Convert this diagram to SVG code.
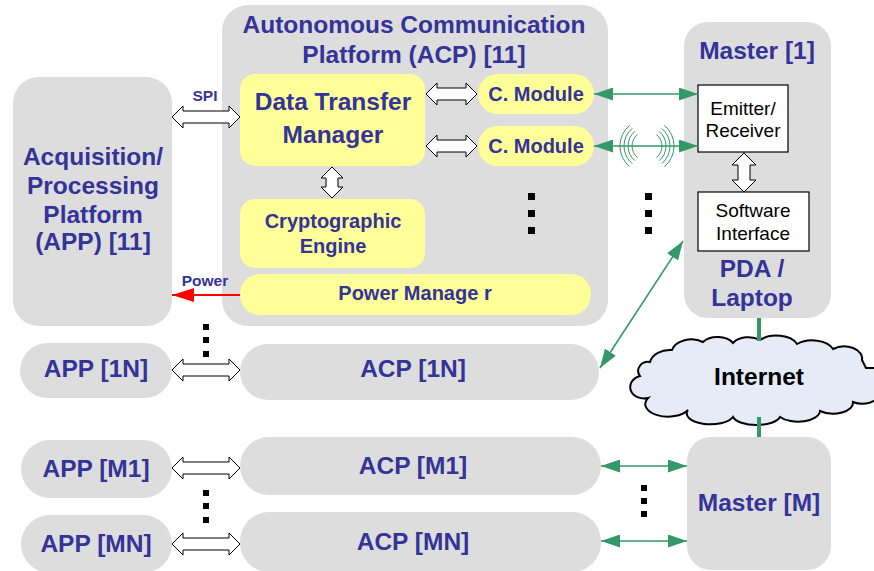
<svg xmlns="http://www.w3.org/2000/svg" width="874" height="571" viewBox="0 0 874 571">
<style>
.g{fill:#dddddd}
.y{fill:#ffff99}
.w{fill:#ffffff;stroke:#000;stroke-width:1.2}
.t{font-family:"Liberation Sans",Arial,sans-serif;font-weight:bold;font-size:24.5px;fill:#333399;text-anchor:middle}
.m{font-size:20px}
.s{font-size:15.5px}
.n{font-family:"Liberation Sans",Arial,sans-serif;font-size:19px;fill:#000;text-anchor:middle}
.ho{fill:#fff;stroke:#000;stroke-width:1}
.gl{stroke:#339966;stroke-width:1.6;fill:none}
.wv{stroke:#339966;stroke-width:1;fill:none}
.dot{fill:#000}
</style>
<defs>
<marker id="ga" viewBox="0 0 19 13" markerWidth="19" markerHeight="13" refX="19" refY="6.5" markerUnits="userSpaceOnUse" orient="auto-start-reverse">
<path d="M0,0 L19,6.5 L0,13 Z" fill="#339966"/>
</marker>
<marker id="ra" viewBox="0 0 22 14" markerWidth="22" markerHeight="14" refX="22" refY="7" markerUnits="userSpaceOnUse" orient="auto">
<path d="M0,0 L22,7 L0,14 Z" fill="#ff0000"/>
</marker>
</defs>

<g id="acp11">
<rect class="g" x="222" y="5" width="386" height="321" rx="26"/>
<text class="t" x="414" y="33">Autonomous Communication</text>
<text class="t" x="414" y="63">Platform (ACP) [11]</text>
</g>
<g id="app11">
<rect class="g" x="13" y="77" width="159" height="249" rx="26"/>
<text class="t" x="93" y="165">Acquisition/</text>
<text class="t" x="93" y="194">Processing</text>
<text class="t" x="93" y="223">Platform</text>
<text class="t" x="93" y="250">(APP) [11]</text>
</g>
<g id="dtm">
<rect class="y" x="240" y="74" width="185" height="92" rx="15"/>
<text class="t" x="333" y="110">Data Transfer</text>
<text class="t" x="333" y="143">Manager</text>
</g>
<g id="cmod1">
<rect class="y" x="478" y="74" width="116" height="40" rx="20"/>
<text class="t m" x="536" y="101">C. Module</text>
</g>
<g id="cmod2">
<rect class="y" x="478" y="126" width="116" height="40" rx="20"/>
<text class="t m" x="536" y="153">C. Module</text>
</g>
<g id="crypto">
<rect class="y" x="240" y="199" width="185" height="69" rx="15"/>
<text class="t m" x="333" y="228">Cryptographic</text>
<text class="t m" x="333" y="253">Engine</text>
</g>
<g id="power">
<rect class="y" x="240" y="274" width="351" height="41" rx="20"/>
<text class="t m" x="415" y="300">Power Manage r</text>
</g>
<g id="master1">
<rect class="g" x="684" y="22" width="147" height="296" rx="24"/>
<text class="t" x="757" y="59">Master [1]</text>
<text class="t" x="752" y="277">PDA /</text>
<text class="t" x="752" y="306">Laptop</text>
</g>
<g id="emitter">
<rect class="w" x="698" y="85" width="90" height="67"/>
<text class="n" x="743" y="115">Emitter/</text>
<text class="n" x="743" y="137">Receiver</text>
</g>
<g id="software">
<rect class="w" x="698" y="192" width="111" height="59"/>
<text class="n" x="753" y="217">Software</text>
<text class="n" x="753" y="240">Interface</text>
</g>
<g id="app1n">
<rect class="g" x="20" y="343" width="152" height="55" rx="27.5"/>
<text class="t" x="96" y="377">APP [1N]</text>
</g>
<g id="acp1n">
<rect class="g" x="240" y="344" width="359" height="56" rx="28"/>
<text class="t" x="413" y="377">ACP [1N]</text>
</g>
<g id="appm1">
<rect class="g" x="21" y="440" width="151" height="58" rx="29"/>
<text class="t" x="96" y="477">APP [M1]</text>
</g>
<g id="acpm1">
<rect class="g" x="240" y="437" width="361" height="58" rx="29"/>
<text class="t" x="413" y="474">ACP [M1]</text>
</g>
<g id="appmn">
<rect class="g" x="21" y="515" width="151" height="58" rx="29"/>
<text class="t" x="96" y="552">APP [MN]</text>
</g>
<g id="acpmn">
<rect class="g" x="240" y="512" width="361" height="60" rx="29"/>
<text class="t" x="413" y="550">ACP [MN]</text>
</g>
<g id="masterm">
<rect class="g" x="687" y="437" width="144" height="133" rx="24"/>
<text class="t" x="759" y="511">Master [M]</text>
</g>
<g id="internet">
<path d="M648,398 A12,10 0 0 1 640,376 A10,9 0 0 1 650,362 A20,15 0 0 1 672,350 A20,14 0 0 1 703,342 A18,12 0 0 1 733,343 A18,12 0 0 1 760,340 A22,13 0 0 1 797,344 A22,13 0 0 1 833,349 A18,12 0 0 1 862,360 L866,368 L880,368 L880,394 A18,12 0 0 1 853,402 A20,11 0 0 1 820,411 A22,11 0 0 1 780,417 A24,10 0 0 1 733,417 A22,10 0 0 1 688,410 A18,10 0 0 1 648,398 Z" fill="#e6ecf7" stroke="#000" stroke-width="2"/>
<text class="t" x="759" y="385" style="fill:#000">Internet</text>
</g>

<g id="connectors">
<polygon class="ho" points="172,117 183,106 183,111 229,111 229,106 240,117 229,128 229,123 183,123 183,128"/>
<polygon class="ho" points="426,94 437,83 437,88 466,88 466,83 477,94 466,105 466,100 437,100 437,105"/>
<polygon class="ho" points="426,146 437,135 437,140 466,140 466,135 477,146 466,157 466,152 437,152 437,157"/>
<polygon class="ho" points="332,167 343,178 338,178 338,187 343,187 332,198 321,187 326,187 326,178 321,178"/>
<polygon class="ho" points="744,153 756,165 750,165 750,180 756,180 744,192 732,180 738,180 738,165 732,165"/>
<polygon class="ho" points="172,370 183,359 183,364 229,364 229,359 240,370 229,381 229,376 183,376 183,381"/>
<polygon class="ho" points="172,468 183,457 183,462 229,462 229,457 240,468 229,479 229,474 183,474 183,479"/>
<polygon class="ho" points="172,544 183,533 183,538 229,538 229,533 240,544 229,555 229,550 183,550 183,555"/>
<text class="t s" x="205" y="101">SPI</text>
<text class="t s" x="205" y="286">Power</text>
<line x1="240" y1="295" x2="172" y2="295" stroke="#ff0000" stroke-width="2" marker-end="url(#ra)"/>
<line class="gl" x1="594" y1="94" x2="698" y2="94" marker-start="url(#ga)" marker-end="url(#ga)"/>
<line class="gl" x1="594" y1="146" x2="698" y2="146" marker-start="url(#ga)" marker-end="url(#ga)"/>
<line class="gl" x1="600" y1="368" x2="683" y2="241" marker-start="url(#ga)" marker-end="url(#ga)"/>
<line class="gl" x1="601" y1="466" x2="687" y2="466" marker-start="url(#ga)" marker-end="url(#ga)"/>
<line class="gl" x1="601" y1="541" x2="687" y2="541" marker-start="url(#ga)" marker-end="url(#ga)"/>
<path class="wv" d="M637.4,134.5 A15,15 0 0 0 637.4,157.5 M634.8,131.4 A19,19 0 0 0 634.8,160.6 M632.2,128.4 A23,23 0 0 0 632.2,163.6 M629.6,125.3 A27,27 0 0 0 629.6,166.7"/>
<path class="wv" d="M656.6,134.5 A15,15 0 0 1 656.6,157.5 M659.2,131.4 A19,19 0 0 1 659.2,160.6 M661.8,128.4 A23,23 0 0 1 661.8,163.6 M664.4,125.3 A27,27 0 0 1 664.4,166.7"/>
<line x1="759" y1="318" x2="759" y2="341" stroke="#339966" stroke-width="4"/>
<line x1="759" y1="417" x2="759" y2="437" stroke="#339966" stroke-width="4"/>
</g>

<g id="ellipses">
<rect class="dot" x="528" y="193" width="7" height="7"/>
<rect class="dot" x="528" y="210" width="7" height="7"/>
<rect class="dot" x="528" y="227" width="7" height="7"/>
<rect class="dot" x="645" y="193" width="7" height="7"/>
<rect class="dot" x="645" y="210" width="7" height="7"/>
<rect class="dot" x="645" y="227" width="7" height="7"/>
<rect class="dot" x="203" y="324" width="6" height="6"/>
<rect class="dot" x="203" y="337" width="6" height="6"/>
<rect class="dot" x="203" y="351" width="6" height="6"/>
<rect class="dot" x="203" y="490" width="6" height="6"/>
<rect class="dot" x="203" y="503" width="6" height="6"/>
<rect class="dot" x="203" y="517" width="6" height="6"/>
<rect class="dot" x="641" y="485" width="6" height="6"/>
<rect class="dot" x="641" y="498" width="6" height="6"/>
<rect class="dot" x="641" y="511" width="6" height="6"/>
</g>
</svg>
